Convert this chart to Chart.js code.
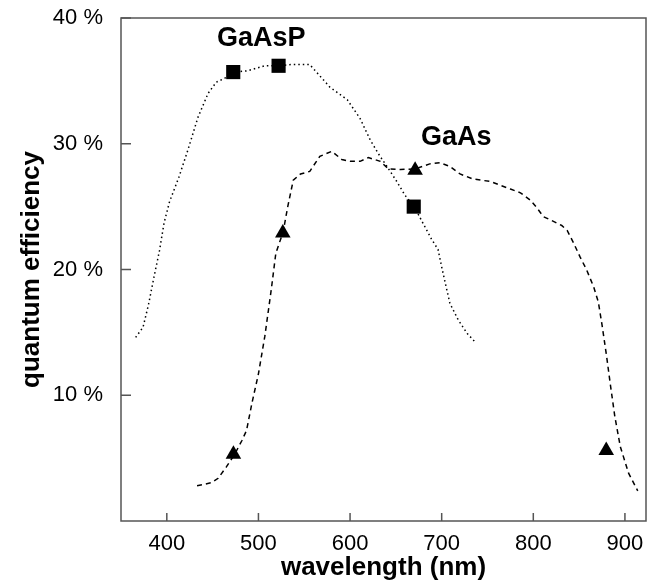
<!DOCTYPE html>
<html>
<head>
    <title>Quantum efficiency</title>
    <style>
        body { margin: 0; background: #fff; }
        canvas { display: block; }
    </style>
</head>
<body>
    <canvas id="qeChart" width="660" height="583"></canvas>

    <script src="https://cdn.jsdelivr.net/npm/chart.js"></script>
    <script>
        // GaAsP photocathode (dotted curve)
        const gaaspWl = [366, 374, 380, 386, 392, 397, 403, 413, 423, 434, 445, 454, 463, 473, 488, 507, 522, 536, 556, 567, 578, 597, 611, 622, 631, 642, 651, 660, 670, 678, 689, 696, 700, 704, 709, 718, 728, 737];
        const gaaspQe = [14.6, 15.4, 17.2, 19.4, 21.5, 23.7, 25.4, 27.3, 29.5, 32.1, 34.0, 34.9, 35.2, 35.7, 35.8, 36.2, 36.2, 36.3, 36.3, 35.4, 34.5, 33.5, 32.0, 30.3, 29.2, 28.0, 27.0, 25.9, 25.0, 23.9, 22.4, 21.6, 20.2, 18.9, 17.3, 16.0, 14.9, 14.2];

        // GaAs photocathode (dashed curve)
        const gaasWl = [433, 449, 456, 465, 474, 482, 487, 493, 500, 507, 514, 519, 527, 532, 538, 546, 556, 567, 580, 591, 600, 611, 620, 633, 642, 655, 671, 687, 698, 709, 720, 734, 753, 775, 786, 797, 804, 811, 820, 831, 837, 844, 851, 858, 866, 871, 875, 880, 884, 889, 895, 904, 914];
        const gaasQe = [2.8, 3.05, 3.4, 4.3, 5.3, 6.4, 7.2, 9.4, 11.7, 14.7, 18.4, 21.3, 23.0, 25.0, 27.1, 27.6, 27.8, 29.0, 29.4, 28.75, 28.6, 28.6, 28.9, 28.6, 28.0, 27.95, 28.0, 28.4, 28.5, 28.2, 27.6, 27.2, 27.0, 26.4, 26.1, 25.5, 24.9, 24.2, 23.9, 23.5, 23.1, 22.1, 21.0, 20.0, 18.6, 17.4, 15.6, 13.1, 10.9, 8.3, 5.9, 3.8, 2.4];

        // marker points
        const gaaspMarkWl = [472.5, 522, 669.5];
        const gaaspMarkQe = [35.7, 36.2, 25.0];
        const gaasMarkWl = [472.7, 526.6, 671, 879.6];
        const gaasMarkQe = [5.3, 22.9, 27.9, 5.6];

        // curve names and where they sit
        const curveNames = ['GaAsP', 'GaAs'];
        const nameWl = [503, 716];
        const nameQe = [38.4, 30.5];

        const xTicks = [400, 500, 600, 700, 800, 900];
        const yTicks = [10, 20, 30, 40];

        const toPoints = (xs, ys) => xs.map((x, i) => ({ x: x, y: ys[i] }));

        const axisColor = '#555';
        const fontFamily = '"Liberation Sans", Arial, Helvetica, sans-serif';

        // frame, inward tick marks and curve names
        const decor = {
            id: 'decor',
            afterDraw(chart) {
                const ctx = chart.ctx;
                const a = chart.chartArea;
                const xs = chart.scales.x, ys = chart.scales.y;
                ctx.save();
                ctx.strokeStyle = axisColor;
                ctx.lineWidth = 1.5;
                ctx.strokeRect(a.left, a.top, a.right - a.left, a.bottom - a.top);
                ctx.beginPath();
                xTicks.forEach(v => {
                    const px = xs.getPixelForValue(v);
                    ctx.moveTo(px, a.bottom);
                    ctx.lineTo(px, a.bottom - 8);
                });
                yTicks.forEach(v => {
                    const py = ys.getPixelForValue(v);
                    ctx.moveTo(a.left, py);
                    ctx.lineTo(a.left + 10, py);
                });
                ctx.stroke();

                ctx.fillStyle = '#000';
                ctx.font = 'bold 27px ' + fontFamily;
                ctx.textAlign = 'center';
                ctx.textBaseline = 'middle';
                curveNames.forEach((name, i) => {
                    ctx.fillText(name, xs.getPixelForValue(nameWl[i]), ys.getPixelForValue(nameQe[i]));
                });
                ctx.restore();
            }
        };

        const ctx = document.getElementById('qeChart').getContext('2d');
        const chart = new Chart(ctx, {
            type: 'scatter',
            data: {
                datasets: [
                    {
                        label: 'GaAsP',
                        data: toPoints(gaaspWl, gaaspQe),
                        showLine: true,
                        borderColor: '#000',
                        borderWidth: 1.5,
                        borderDash: [1.5, 3],
                        pointRadius: 0,
                        tension: 0
                    },
                    {
                        label: 'GaAs',
                        data: toPoints(gaasWl, gaasQe),
                        showLine: true,
                        borderColor: '#000',
                        borderWidth: 1.5,
                        borderDash: [5, 4],
                        pointRadius: 0,
                        tension: 0
                    },
                    {
                        label: 'GaAsP points',
                        data: toPoints(gaaspMarkWl, gaaspMarkQe),
                        pointStyle: 'rect',
                        pointRadius: 10,
                        backgroundColor: '#000',
                        borderColor: '#000',
                        borderWidth: 0
                    },
                    {
                        label: 'GaAs points',
                        data: toPoints(gaasMarkWl, gaasMarkQe),
                        pointStyle: 'triangle',
                        pointRadius: 9,
                        backgroundColor: '#000',
                        borderColor: '#000',
                        borderWidth: 0
                    }
                ]
            },
            options: {
                responsive: false,
                animation: false,
                layout: { padding: { left: 0, top: 18, right: 14, bottom: 0 } },
                plugins: {
                    legend: { display: false },
                    tooltip: { enabled: false }
                },
                scales: {
                    x: {
                        type: 'linear',
                        min: 350,
                        max: 923,
                        afterBuildTicks: s => { s.ticks = xTicks.map(v => ({ value: v })); },
                        afterFit: s => { s.height = 62; s.paddingLeft = 0; s.paddingRight = 0; },
                        grid: { display: false, drawTicks: false },
                        border: { display: false },
                        ticks: {
                            color: '#000',
                            padding: 10,
                            maxRotation: 0,
                            font: { family: fontFamily, size: 22 }
                        },
                        title: {
                            display: true,
                            text: 'wavelength (nm)',
                            color: '#000',
                            padding: { top: 0, bottom: 0 },
                            font: { family: fontFamily, size: 26, weight: 'bold', lineHeight: 1.2 }
                        }
                    },
                    y: {
                        type: 'linear',
                        min: 0,
                        max: 40,
                        afterBuildTicks: s => { s.ticks = yTicks.map(v => ({ value: v })); },
                        afterFit: s => { s.width = 121; s.paddingTop = 0; s.paddingBottom = 0; },
                        grid: { display: false, drawTicks: false },
                        border: { display: false },
                        ticks: {
                            color: '#000',
                            padding: 18,
                            font: { family: fontFamily, size: 22 },
                            callback: v => v + ' %'
                        },
                        title: {
                            display: true,
                            text: 'quantum efficiency',
                            color: '#000',
                            padding: { top: 16, bottom: 0 },
                            font: { family: fontFamily, size: 26, weight: 'bold', lineHeight: 1.2 }
                        }
                    }
                }
            },
            plugins: [decor]
        });
    </script>
</body>
</html>
